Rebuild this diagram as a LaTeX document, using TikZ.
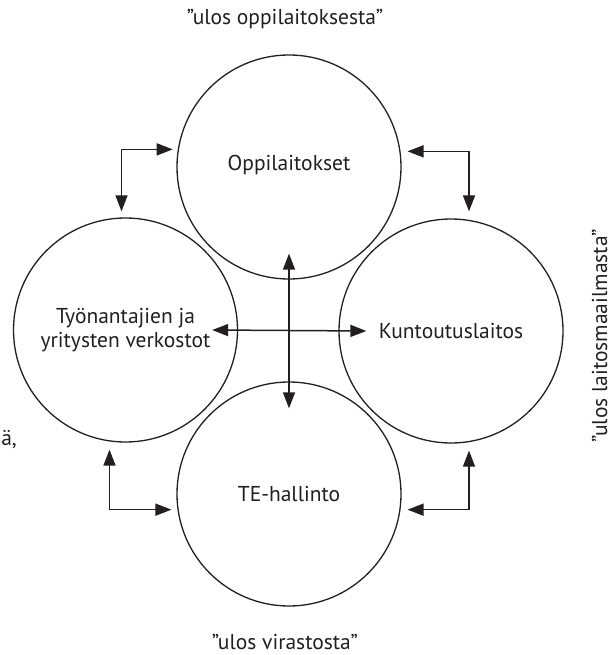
\documentclass[tikz,border=0pt]{standalone}
\usepackage{fontspec}
\setmainfont{PT Sans}
\usetikzlibrary{arrows.meta,calc}
\definecolor{ink}{RGB}{35,31,32}
\newcommand{\mainsz}{\fontsize{21.5}{24}\selectfont}
\tikzset{
  ring/.style={circle, draw=ink, line width=1.3pt, minimum size=224pt, inner sep=0pt, align=center, font=\mainsz, text=ink},
  biarrow/.style={draw=ink, line width=1.5pt, {Triangle[length=16pt,width=12pt]}-{Triangle[length=16pt,width=12pt]}},
  caption/.style={font=\mainsz, inner sep=0pt, text=ink}
}
\begin{document}
\begin{tikzpicture}[x=1pt,y=-1pt]
\useasboundingbox[fill=white] (0,0) rectangle (613,655);
\clip (0,0) rectangle (613,655);
% circles
\node[ring] (top) at (289,167) {Oppilaitokset\\[-16pt]};
\node[ring] (bottom) at (289,494) {TE-hallinto};
\node[ring] (left) at (125.5,330) {Työnantajien ja\\yritysten verkostot};
\node[ring] (right) at (451,331) {Kuntoutuslaitos};
% central arrows
\draw[biarrow] ([xshift=-26pt]left.east) -- ([xshift=28pt]right.west);
\draw[biarrow] ([yshift=26pt]top.south) -- ([yshift=-27pt]bottom.north);
% corner connectors
\draw[biarrow] ([xshift=-5pt]top.171.8) -| ([shift={(-4pt,6pt)}]left.north);
\draw[biarrow] ([xshift=7pt]top.8.7) -| ([shift={(18pt,7pt)}]right.north);
\draw[biarrow] ([shift={(-16pt,-7pt)}]left.south) |- ([xshift=-6pt]bottom.188.7);
\draw[biarrow] ([shift={(18pt,-7pt)}]right.south) |- ([xshift=7pt]bottom.-8.7);
% captions
\node[caption, anchor=base] (capTop) at (285,25) {”ulos oppilaitoksesta”};
\node[caption, anchor=base] (capBottom) at (285,649) {”ulos virastosta”};
\node[caption, anchor=base, rotate=90] (capRight) at (607,336) {”ulos laitosmaailmasta”};
\node[caption, anchor=base east] (capLeft) at (17,445) {ä,};
\end{tikzpicture}
\end{document}
